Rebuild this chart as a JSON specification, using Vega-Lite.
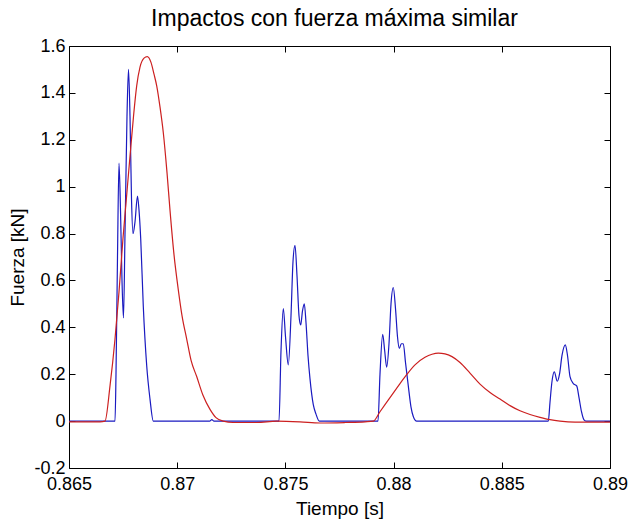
{
  "$schema": "https://vega.github.io/schema/vega-lite/v6.json",
  "width": 541,
  "height": 422,
  "autosize": {"type": "none"},
  "padding": {"left": 69, "top": 46, "right": 19, "bottom": 55},
  "background": "white",
  "config": {
    "view": {"stroke": null},
    "font": "Liberation Sans"
  },
  "title": {
    "text": "Impactos con fuerza máxima similar",
    "font": "Liberation Sans",
    "fontSize": 23,
    "fontWeight": "normal",
    "color": "black",
    "frame": "group",
    "anchor": "middle",
    "offset": 6,
    "dx": -5
  },
  "datasets": {
    "series": [
      {"t": 0.865, "F": 0, "s": "medida"},
      {"t": 0.867126, "F": 0, "s": "medida"},
      {"t": 0.867172, "F": 0.2, "s": "medida"},
      {"t": 0.867241, "F": 0.7, "s": "medida"},
      {"t": 0.86731, "F": 1.1, "s": "medida"},
      {"t": 0.86738, "F": 0.9, "s": "medida"},
      {"t": 0.867449, "F": 0.6, "s": "medida"},
      {"t": 0.867518, "F": 0.44, "s": "medida"},
      {"t": 0.867588, "F": 0.8, "s": "medida"},
      {"t": 0.86768, "F": 1.3, "s": "medida"},
      {"t": 0.86775, "F": 1.5, "s": "medida"},
      {"t": 0.867819, "F": 1.3, "s": "medida"},
      {"t": 0.867888, "F": 0.95, "s": "medida"},
      {"t": 0.867957, "F": 0.8, "s": "medida"},
      {"t": 0.86805, "F": 0.85, "s": "medida"},
      {"t": 0.868165, "F": 0.96, "s": "medida"},
      {"t": 0.868235, "F": 0.9, "s": "medida"},
      {"t": 0.868313, "F": 0.78, "s": "medida"},
      {"t": 0.868433, "F": 0.49, "s": "medida"},
      {"t": 0.868591, "F": 0.236, "s": "medida"},
      {"t": 0.868743, "F": 0.094, "s": "medida"},
      {"t": 0.868896, "F": 0, "s": "medida"},
      {"t": 0.8715, "F": 0, "s": "medida"},
      {"t": 0.8716, "F": 0.006, "s": "medida"},
      {"t": 0.8717, "F": 0, "s": "medida"},
      {"t": 0.874704, "F": 0, "s": "medida"},
      {"t": 0.874797, "F": 0.3, "s": "medida"},
      {"t": 0.874903, "F": 0.48, "s": "medida"},
      {"t": 0.875005, "F": 0.36, "s": "medida"},
      {"t": 0.875134, "F": 0.24, "s": "medida"},
      {"t": 0.875259, "F": 0.45, "s": "medida"},
      {"t": 0.875351, "F": 0.68, "s": "medida"},
      {"t": 0.875444, "F": 0.75, "s": "medida"},
      {"t": 0.875536, "F": 0.62, "s": "medida"},
      {"t": 0.875628, "F": 0.45, "s": "medida"},
      {"t": 0.875707, "F": 0.41, "s": "medida"},
      {"t": 0.87579, "F": 0.47, "s": "medida"},
      {"t": 0.875873, "F": 0.5, "s": "medida"},
      {"t": 0.875952, "F": 0.42, "s": "medida"},
      {"t": 0.876044, "F": 0.28, "s": "medida"},
      {"t": 0.876137, "F": 0.18, "s": "medida"},
      {"t": 0.876289, "F": 0.07, "s": "medida"},
      {"t": 0.876414, "F": 0.03, "s": "medida"},
      {"t": 0.876567, "F": 0, "s": "medida"},
      {"t": 0.879279, "F": 0, "s": "medida"},
      {"t": 0.879371, "F": 0.2, "s": "medida"},
      {"t": 0.879496, "F": 0.37, "s": "medida"},
      {"t": 0.879588, "F": 0.3, "s": "medida"},
      {"t": 0.879681, "F": 0.23, "s": "medida"},
      {"t": 0.879787, "F": 0.33, "s": "medida"},
      {"t": 0.87988, "F": 0.5, "s": "medida"},
      {"t": 0.879986, "F": 0.57, "s": "medida"},
      {"t": 0.880088, "F": 0.48, "s": "medida"},
      {"t": 0.88018, "F": 0.36, "s": "medida"},
      {"t": 0.880263, "F": 0.31, "s": "medida"},
      {"t": 0.880356, "F": 0.33, "s": "medida"},
      {"t": 0.880448, "F": 0.33, "s": "medida"},
      {"t": 0.88055, "F": 0.25, "s": "medida"},
      {"t": 0.880679, "F": 0.15, "s": "medida"},
      {"t": 0.880804, "F": 0.06, "s": "medida"},
      {"t": 0.88091, "F": 0.02, "s": "medida"},
      {"t": 0.881067, "F": 0, "s": "medida"},
      {"t": 0.887149, "F": 0, "s": "medida"},
      {"t": 0.887227, "F": 0.08, "s": "medida"},
      {"t": 0.88732, "F": 0.17, "s": "medida"},
      {"t": 0.887426, "F": 0.21, "s": "medida"},
      {"t": 0.887565, "F": 0.17, "s": "medida"},
      {"t": 0.887667, "F": 0.2, "s": "medida"},
      {"t": 0.887782, "F": 0.28, "s": "medida"},
      {"t": 0.887934, "F": 0.325, "s": "medida"},
      {"t": 0.888036, "F": 0.28, "s": "medida"},
      {"t": 0.888152, "F": 0.19, "s": "medida"},
      {"t": 0.888304, "F": 0.16, "s": "medida"},
      {"t": 0.888461, "F": 0.15, "s": "medida"},
      {"t": 0.888568, "F": 0.1, "s": "medida"},
      {"t": 0.888683, "F": 0.04, "s": "medida"},
      {"t": 0.888799, "F": 0.005, "s": "medida"},
      {"t": 0.888891, "F": 0, "s": "medida"},
      {"t": 0.89, "F": 0, "s": "medida"},
      {"t": 0.865, "F": -0.003, "s": "modelo"},
      {"t": 0.866433, "F": -0.003, "s": "modelo"},
      {"t": 0.866664, "F": 0, "s": "modelo"},
      {"t": 0.866895, "F": 0.15, "s": "modelo"},
      {"t": 0.867126, "F": 0.35, "s": "modelo"},
      {"t": 0.86731, "F": 0.55, "s": "modelo"},
      {"t": 0.867495, "F": 0.78, "s": "modelo"},
      {"t": 0.867634, "F": 0.93, "s": "modelo"},
      {"t": 0.867819, "F": 1.13, "s": "modelo"},
      {"t": 0.867981, "F": 1.3, "s": "modelo"},
      {"t": 0.868128, "F": 1.43, "s": "modelo"},
      {"t": 0.868281, "F": 1.51, "s": "modelo"},
      {"t": 0.868466, "F": 1.548, "s": "modelo"},
      {"t": 0.868618, "F": 1.555, "s": "modelo"},
      {"t": 0.868789, "F": 1.53, "s": "modelo"},
      {"t": 0.868928, "F": 1.48, "s": "modelo"},
      {"t": 0.869053, "F": 1.43, "s": "modelo"},
      {"t": 0.869205, "F": 1.34, "s": "modelo"},
      {"t": 0.869358, "F": 1.23, "s": "modelo"},
      {"t": 0.869529, "F": 1.06, "s": "modelo"},
      {"t": 0.869667, "F": 0.9, "s": "modelo"},
      {"t": 0.869852, "F": 0.71, "s": "modelo"},
      {"t": 0.870051, "F": 0.56, "s": "modelo"},
      {"t": 0.870222, "F": 0.45, "s": "modelo"},
      {"t": 0.870439, "F": 0.35, "s": "modelo"},
      {"t": 0.870638, "F": 0.26, "s": "modelo"},
      {"t": 0.870901, "F": 0.19, "s": "modelo"},
      {"t": 0.871192, "F": 0.11, "s": "modelo"},
      {"t": 0.871516, "F": 0.05, "s": "modelo"},
      {"t": 0.871793, "F": 0.015, "s": "modelo"},
      {"t": 0.87213, "F": 0, "s": "modelo"},
      {"t": 0.872579, "F": -0.006, "s": "modelo"},
      {"t": 0.873674, "F": -0.006, "s": "modelo"},
      {"t": 0.874598, "F": 0, "s": "modelo"},
      {"t": 0.875675, "F": -0.003, "s": "modelo"},
      {"t": 0.876599, "F": -0.008, "s": "modelo"},
      {"t": 0.877754, "F": -0.006, "s": "modelo"},
      {"t": 0.878678, "F": -0.003, "s": "modelo"},
      {"t": 0.879062, "F": 0, "s": "modelo"},
      {"t": 0.879371, "F": 0.04, "s": "modelo"},
      {"t": 0.879833, "F": 0.1, "s": "modelo"},
      {"t": 0.880296, "F": 0.16, "s": "modelo"},
      {"t": 0.880619, "F": 0.2, "s": "modelo"},
      {"t": 0.880989, "F": 0.24, "s": "modelo"},
      {"t": 0.881451, "F": 0.272, "s": "modelo"},
      {"t": 0.881774, "F": 0.285, "s": "modelo"},
      {"t": 0.882066, "F": 0.29, "s": "modelo"},
      {"t": 0.882375, "F": 0.287, "s": "modelo"},
      {"t": 0.882699, "F": 0.275, "s": "modelo"},
      {"t": 0.883068, "F": 0.25, "s": "modelo"},
      {"t": 0.88353, "F": 0.205, "s": "modelo"},
      {"t": 0.883993, "F": 0.158, "s": "modelo"},
      {"t": 0.884455, "F": 0.122, "s": "modelo"},
      {"t": 0.884917, "F": 0.094, "s": "modelo"},
      {"t": 0.885379, "F": 0.066, "s": "modelo"},
      {"t": 0.885841, "F": 0.044, "s": "modelo"},
      {"t": 0.886303, "F": 0.028, "s": "modelo"},
      {"t": 0.886765, "F": 0.016, "s": "modelo"},
      {"t": 0.887227, "F": 0.006, "s": "modelo"},
      {"t": 0.887689, "F": 0, "s": "modelo"},
      {"t": 0.888383, "F": -0.004, "s": "modelo"},
      {"t": 0.89, "F": -0.004, "s": "modelo"}
    ]
  },
  "data": {"name": "series"},
  "layer": [
    {
      "mark": {"type": "line", "strokeWidth": 1.2, "clip": true, "interpolate": "monotone"},
      "encoding": {
        "x": {
          "field": "t", "type": "quantitative",
          "scale": {"domain": [0.865, 0.89], "nice": false, "zero": false},
          "axis": {
            "orient": "bottom",
            "values": [0.865, 0.87, 0.875, 0.88, 0.885, 0.89],
            "labelExpr": "format(datum.value, '~g')",
            "title": "Tiempo [s]",
            "grid": false,
            "domainColor": "black",
            "tickColor": "black",
            "tickSize": -6,
            "labelPadding": 13,
            "labelFontSize": 18,
            "labelColor": "black",
            "labelFont": "Liberation Sans",
            "labelFlush": false,
            "labelOverlap": false,
            "titleFontSize": 19,
            "titleFontWeight": "normal",
            "titleColor": "black",
            "titleFont": "Liberation Sans",
            "titlePadding": 6
          }
        },
        "y": {
          "field": "F", "type": "quantitative",
          "scale": {"domain": [-0.2, 1.6], "nice": false, "zero": false},
          "axis": {
            "orient": "left",
            "values": [-0.2, 0, 0.2, 0.4, 0.6, 0.8, 1, 1.2, 1.4, 1.6],
            "labelExpr": "datum.value < 0 ? '-' + format(-datum.value, '~g') : format(datum.value, '~g')",
            "title": "Fuerza [kN]",
            "grid": false,
            "domainColor": "black",
            "tickColor": "black",
            "tickSize": -6,
            "labelPadding": 10,
            "labelFontSize": 18,
            "labelColor": "black",
            "labelFont": "Liberation Sans",
            "labelFlush": false,
            "labelOverlap": false,
            "titleFontSize": 19,
            "titleFontWeight": "normal",
            "titleColor": "black",
            "titleFont": "Liberation Sans",
            "titlePadding": 6
          }
        },
        "color": {
          "field": "s", "type": "nominal",
          "scale": {"domain": ["medida", "modelo"], "range": ["#1a1ac0", "#cc2020"]},
          "legend": null
        },
        "order": {"field": "t", "type": "quantitative"}
      }
    },
    {
      "mark": {"type": "line", "strokeOpacity": 0},
      "encoding": {
        "x": {
          "field": "t", "type": "quantitative",
          "axis": {
            "orient": "top",
            "values": [0.865, 0.87, 0.875, 0.88, 0.885, 0.89],
            "labels": false,
            "title": null,
            "grid": false,
            "domainColor": "black",
            "tickColor": "black",
            "tickSize": -6
          }
        },
        "y": {
          "field": "F", "type": "quantitative",
          "axis": {
            "orient": "right",
            "values": [-0.2, 0, 0.2, 0.4, 0.6, 0.8, 1, 1.2, 1.4, 1.6],
            "labels": false,
            "title": null,
            "grid": false,
            "domainColor": "black",
            "tickColor": "black",
            "tickSize": -6
          }
        },
        "detail": {"field": "s", "type": "nominal"}
      }
    }
  ],
  "resolve": {"axis": {"x": "independent", "y": "independent"}}
}
